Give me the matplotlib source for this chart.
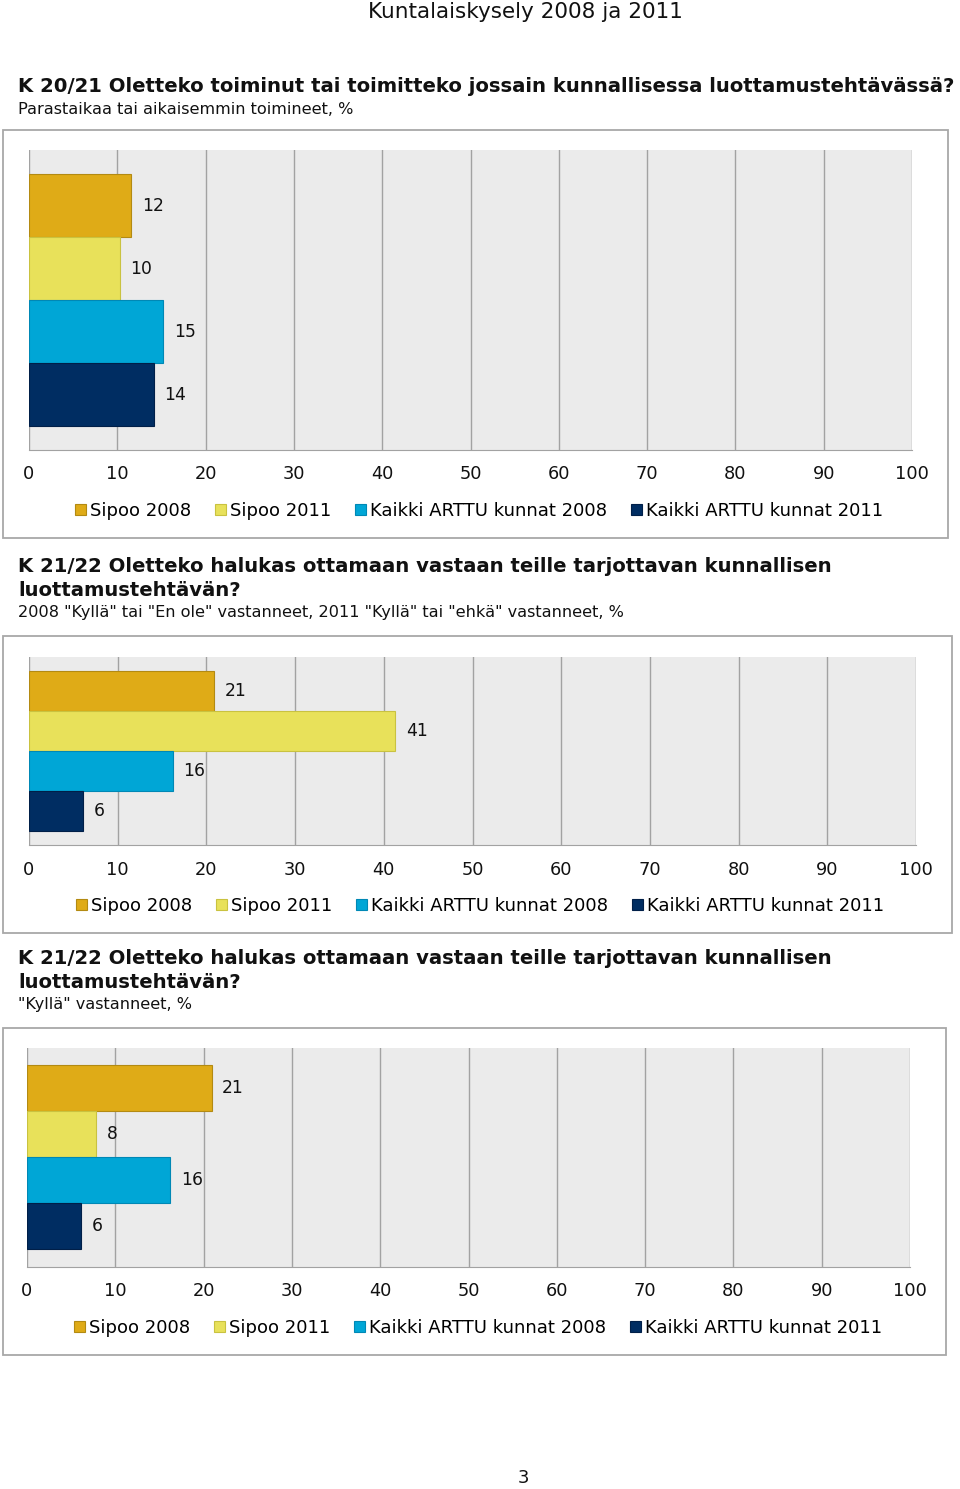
import matplotlib.pyplot as plt
from matplotlib.patches import Rectangle

W, H = 960, 1489

series = ['Sipoo 2008', 'Sipoo 2011', 'Kaikki ARTTU kunnat 2008', 'Kaikki ARTTU kunnat 2011']
colors = ['#DFAB17', '#E8E15A', '#00A6D6', '#002D62']
edges = ['#B38A12', '#C9C240', '#0088B5', '#001F48']

# bar lengths; labels show them rounded
q1_values = [11.6, 10.3, 15.2, 14.1]
q2_values = [20.9, 41.3, 16.2, 6.1]
q3_values = [20.9, 7.8, 16.2, 6.1]

ticks = list(range(0, 101, 10))

fig = plt.figure(figsize=(W / 100, H / 100), dpi=100)


def fx(x):
    return x / W


def fy(y):
    return 1 - y / H


def panel(values, box, area, bars, tick_y, legend_y, legend_x):
    # outer frame
    x0, y0, x1, y1 = box
    fig.patches.append(Rectangle((fx(x0), fy(y1)), fx(x1 - x0), (y1 - y0) / H,
                                 transform=fig.transFigure, facecolor='none',
                                 edgecolor='#A8A8A8', lw=1.3, zorder=0))
    ax0, ay0, ax1, ay1 = area
    ax = fig.add_axes([fx(ax0), fy(ay1), fx(ax1 - ax0), (ay1 - ay0) / H])
    ax.set_facecolor('#EBEBEB')
    unit = (bars[1] - bars[0]) / 4
    top = (bars[0] - ay0) / unit
    bot = (ay1 - bars[1]) / unit
    pos = list(range(len(values)))
    for i, v in enumerate(values):
        ax.barh(pos[i], v, height=1.0, color=colors[i], edgecolor=edges[i],
                lw=0.8, label=series[i], zorder=3)
        ax.text(v + 1.2, pos[i], f'{v:.0f}', va='center', ha='left', fontsize=12.3,
                color='#111111', zorder=4)
    ax.set_xlim(0, 100)
    ax.set_ylim(3.5 + bot, -0.5 - top)
    ax.set_xticks(ticks)
    ax.set_yticks([])
    ax.grid(axis='x', color='#A2A2A2', lw=1.0, zorder=1)
    for s in ['top', 'right', 'left']:
        ax.spines[s].set_visible(False)
    ax.spines['bottom'].set_color('#A2A2A2')
    ax.tick_params(axis='x', length=0, labelsize=12.8, labelcolor='#111111',
                   pad=(tick_y - ay1 - 8) * 0.72)
    ax.legend(loc='center left', bbox_to_anchor=(fx(legend_x), fy(legend_y)),
              bbox_transform=fig.transFigure, ncol=4, frameon=False,
              fontsize=13.0, handlelength=0.6, handleheight=0.6,
              handletextpad=0.25, columnspacing=1.3, borderpad=0, borderaxespad=0)
    return ax


fig.text(fx(525), fy(12), 'Kuntalaiskysely 2008 ja 2011', ha='center', va='center',
         fontsize=15.5, color='#111111')

fig.text(fx(18), fy(87), 'K 20/21 Oletteko toiminut tai toimitteko jossain kunnallisessa luottamustehtävässä?',
         ha='left', va='center', fontsize=14.1, fontweight='bold', color='#111111')
fig.text(fx(18), fy(109), 'Parastaikaa tai aikaisemmin toimineet, %',
         ha='left', va='center', fontsize=11.65, color='#111111')
panel(q1_values, (3, 130, 948, 538), (29, 150, 912, 450), (174, 426), 473, 511, 75)

fig.text(fx(18), fy(567), 'K 21/22 Oletteko halukas ottamaan vastaan teille tarjottavan kunnallisen',
         ha='left', va='center', fontsize=14.1, fontweight='bold', color='#111111')
fig.text(fx(18), fy(590), 'luottamustehtävän?',
         ha='left', va='center', fontsize=14.1, fontweight='bold', color='#111111')
fig.text(fx(18), fy(612), '2008 "Kyllä" tai "En ole" vastanneet, 2011 "Kyllä" tai "ehkä" vastanneet, %',
         ha='left', va='center', fontsize=11.65, color='#111111')
panel(q2_values, (3, 636, 952, 933), (29, 657, 916, 845), (671, 831), 869, 906, 76)

fig.text(fx(18), fy(959), 'K 21/22 Oletteko halukas ottamaan vastaan teille tarjottavan kunnallisen',
         ha='left', va='center', fontsize=14.1, fontweight='bold', color='#111111')
fig.text(fx(18), fy(982), 'luottamustehtävän?',
         ha='left', va='center', fontsize=14.1, fontweight='bold', color='#111111')
fig.text(fx(18), fy(1004), '"Kyllä" vastanneet, %',
         ha='left', va='center', fontsize=11.65, color='#111111')
panel(q3_values, (3, 1028, 946, 1355), (27, 1048, 910, 1267), (1065, 1249), 1290, 1328, 74)

fig.text(fx(523), fy(1478), '3', ha='center', va='center', fontsize=13, color='#111111')

fig.savefig('out.png', dpi=100)
